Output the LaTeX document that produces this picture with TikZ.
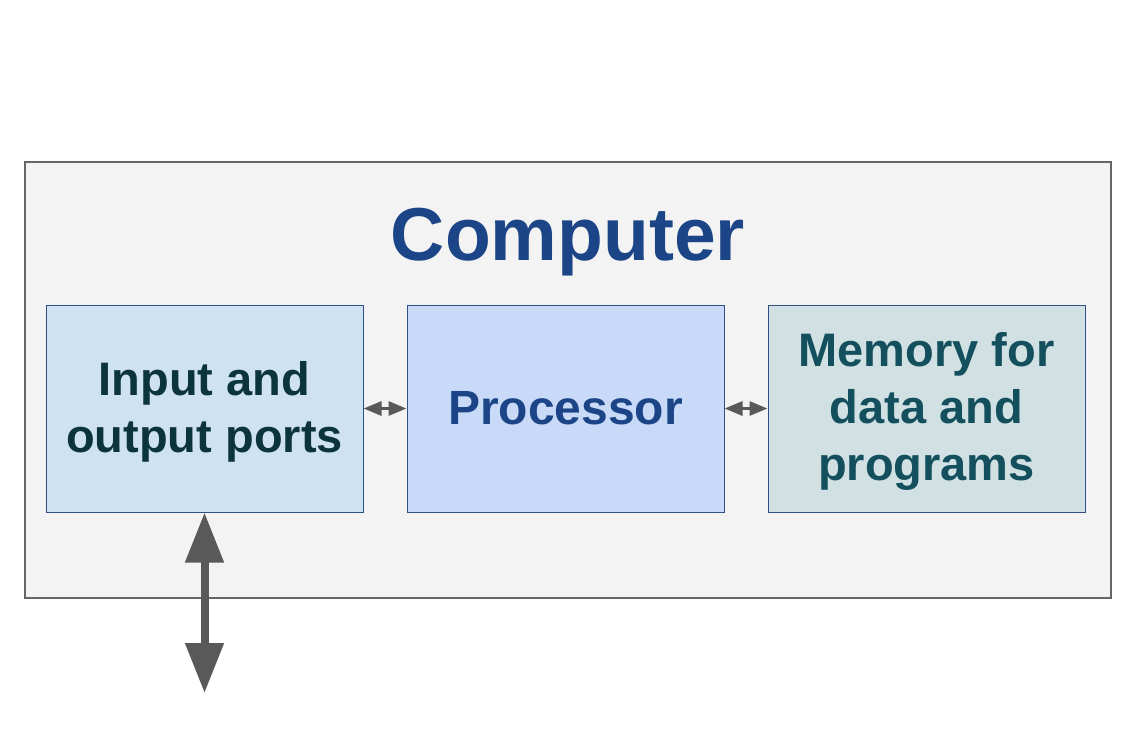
\documentclass[tikz,border=0pt]{standalone}
\usepackage{fontspec}
\setmainfont{Liberation Sans}
\usetikzlibrary{arrows.meta}
\definecolor{outerfill}{HTML}{F3F3F3}
\definecolor{outerline}{HTML}{666666}
\definecolor{iofill}{HTML}{CFE2F3}
\definecolor{procfill}{HTML}{C9DAF8}
\definecolor{memfill}{HTML}{D0E0E3}
\definecolor{boxline}{HTML}{2F4F86}
\definecolor{darkblue}{HTML}{1C4587}
\definecolor{darkcyan}{HTML}{0C343D}
\definecolor{tealtext}{HTML}{134F5C}
\definecolor{arrowgray}{HTML}{595959}
\begin{document}
\begin{tikzpicture}[x=1pt,y=-1pt,
  unitbox/.style={draw=boxline,line width=1pt,minimum width=317pt,minimum height=207pt,
    inner sep=0pt,align=center,font=\fontsize{47}{57}\selectfont\bfseries},
  smallarrow/.style={draw=arrowgray,line width=3pt,
    {Triangle[length=18pt,width=14pt]}-{Triangle[length=18pt,width=14pt]}},
  bigarrow/.style={draw=arrowgray,line width=8pt,
    {Triangle[length=50pt,width=37pt]}-{Triangle[length=50pt,width=37pt]}}]
\useasboundingbox[fill=white] (0,0) rectangle (1132,755);
\node[draw=outerline,fill=outerfill,line width=2pt,minimum width=1086pt,minimum height=436pt,inner sep=0pt] (computer) at (568,380) {};
\node[text=darkblue,font=\fontsize{75}{90}\selectfont\bfseries,anchor=base] (title) at (568,260) {Computer};
\node[unitbox,fill=iofill,text=darkcyan] (io) at (204.5,408.5) {};
\node[unitbox,fill=procfill,text=darkblue] (proc) at (565.5,408.5) {};
\node[unitbox,fill=memfill,text=tealtext] (mem) at (926.5,408.5) {};
\node[text=darkcyan,align=center,font=\fontsize{47}{57}\selectfont\bfseries,yshift=-3pt] (iotext) at (io.center) {Input and\\output ports};
\node[text=darkblue,align=center,font=\fontsize{48}{57}\selectfont\bfseries] (proctext) at (proc.center) {Processor};
\node[text=tealtext,align=center,font=\fontsize{47}{57}\selectfont\bfseries,yshift=-3pt] (memtext) at (mem.center) {Memory for\\data and\\programs};
\coordinate (ext) at (204.5,693);
\draw[smallarrow] (io.east) -- (proc.west);
\draw[smallarrow] (proc.east) -- (mem.west);
\draw[bigarrow] (io.south) -- (ext);
\end{tikzpicture}
\end{document}
